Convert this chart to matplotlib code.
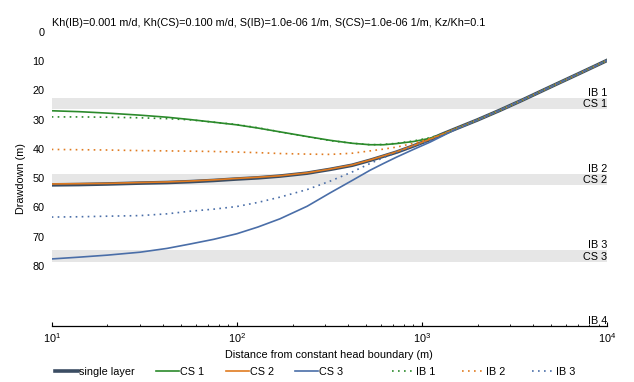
"""Drawdown vs distance from a constant head boundary, layered aquifer."""

import matplotlib
matplotlib.use("Agg")
import matplotlib.pyplot as plt

plt.rcParams['font.family'] = ['Liberation Sans', 'DejaVu Sans']
plt.rcParams['mathtext.fontset'] = 'custom'
plt.rcParams['mathtext.rm'] = 'Liberation Sans'
plt.rcParams['mathtext.it'] = 'Liberation Sans:italic'
plt.rcParams['mathtext.bf'] = 'Liberation Sans:bold'

FS = 7.8

title = ("Kh(IB)=0.001 m/d, Kh(CS)=0.100 m/d, S(IB)=1.0e-06 1/m, "
         "S(CS)=1.0e-06 1/m, Kz/Kh=0.1")

# distance from boundary (m)
distance = [10, 14, 20, 30, 42, 56, 75, 100, 130, 171, 240, 320, 420, 525,
            620, 731, 900, 1107, 1300, 1500, 2000, 2642, 3500, 5000, 7000,
            10000]

# drawdown (m)
single_layer = [52.3, 52.2, 52.0, 51.7, 51.5, 51.2, 50.8, 50.3, 49.9, 49.3,
                48.3, 47.0, 45.6, 43.9, 42.5, 41.1, 39.0, 36.8, 34.9, 33.3,
                30.1, 26.8, 23.3, 18.7, 14.4, 9.8]
cs1 = [27.0, 27.3, 27.8, 28.5, 29.2, 30.0, 30.9, 31.8, 32.9, 34.2,
       35.8, 37.1, 38.1, 38.6, 38.6, 38.2, 37.5, 36.4, 34.9, 33.3,
       30.1, 26.8, 23.3, 18.7, 14.4, 9.8]
cs2 = [52.0, 51.9, 51.8, 51.5, 51.3, 51.0, 50.6, 50.1, 49.7, 49.2,
       48.2, 46.9, 45.5, 43.8, 42.4, 41.0, 38.9, 36.7, 34.9, 33.3,
       30.1, 26.8, 23.3, 18.7, 14.4, 9.8]
cs3 = [77.6, 77.0, 76.3, 75.3, 74.0, 72.5, 70.9, 69.0, 66.7, 63.9,
       59.6, 55.0, 50.8, 47.3, 45.0, 42.8, 40.2, 37.7, 35.5, 33.5,
       30.1, 26.8, 23.3, 18.7, 14.4, 9.8]
ib1 = [29.1, 29.1, 29.2, 29.4, 29.7, 30.1, 30.9, 31.7, 32.8, 34.2,
       35.8, 37.2, 38.1, 38.6, 38.5, 38.1, 37.3, 36.2, 34.8, 33.3,
       30.1, 26.8, 23.3, 18.7, 14.4, 9.8]
ib2 = [40.2, 40.3, 40.4, 40.6, 40.7, 40.8, 40.9, 41.1, 41.3, 41.6,
       41.8, 41.9, 41.5, 40.7, 40.1, 39.4, 38.1, 36.5, 34.9, 33.3,
       30.1, 26.8, 23.3, 18.7, 14.4, 9.8]
ib3 = [63.3, 63.2, 63.0, 62.8, 62.2, 61.3, 60.6, 59.7, 58.3, 56.5,
       53.9, 51.0, 47.9, 45.0, 43.0, 41.2, 39.2, 37.2, 35.3, 33.4,
       30.1, 26.8, 23.3, 18.7, 14.4, 9.8]

# layers: name and depth of the layer bottom (m)
layer_names = ["IB 1", "CS 1", "IB 2", "CS 2", "IB 3", "CS 3", "IB 4"]
layer_bottoms = [22.5, 26.5, 48.5, 52.5, 74.5, 78.5, 100.5]

c_single = '#3b4d63'
c_green = '#2b8a2b'
c_orange = '#e07b20'
c_blue = '#4a6ea8'
c_band = '#e6e6e6'

fig = plt.figure(figsize=(6.34, 3.82), dpi=100)
ax = fig.add_axes([0.0815, 0.1466, 0.876, 0.7704])

# compressible (CS) layers shaded
top = 0.0
for name, bottom in zip(layer_names, layer_bottoms):
    if name.startswith("CS"):
        ax.axhspan(top, bottom, color=c_band, lw=0, zorder=0)
    ax.text(1e4, bottom, name, ha='right', va='bottom', fontsize=FS)
    top = bottom

ax.plot(distance, single_layer, color=c_single, lw=2.6, label='single layer')
ax.plot(distance, cs1, color=c_green, lw=1.2, label='CS 1')
ax.plot(distance, cs2, color=c_orange, lw=1.2, label='CS 2')
ax.plot(distance, cs3, color=c_blue, lw=1.2, label='CS 3')
dots = (0, (1, 2.6))
ax.plot(distance, ib1, color=c_green, lw=1.2, ls=dots, label='IB 1')
ax.plot(distance, ib2, color=c_orange, lw=1.2, ls=dots, label='IB 2')
ax.plot(distance, ib3, color=c_blue, lw=1.2, ls=dots, label='IB 3')

ax.set_xscale('log')
ax.set_xlim(10, 1e4)
ax.set_ylim(layer_bottoms[-1], 0)
ax.set_yticks(range(0, 81, 10))

for side in ('left', 'top', 'right'):
    ax.spines[side].set_visible(False)
ax.spines['bottom'].set_linewidth(0.9)
ax.tick_params(axis='y', length=0, labelsize=FS, pad=5)
ax.tick_params(axis='x', which='major', direction='in', length=3.2,
               width=0.8, labelsize=FS, pad=3.5)
ax.tick_params(axis='x', which='minor', direction='in', length=1.6,
               width=0.6)

ax.set_title(title, loc='left', fontsize=FS, pad=4)
ax.set_xlabel("Distance from constant head boundary (m)", fontsize=FS,
              labelpad=4)
ax.set_ylabel("Drawdown (m)", fontsize=FS)
ax.yaxis.set_label_coords(-0.046, 0.5)

handles, labels = ax.get_legend_handles_labels()
leg_kw = dict(fontsize=FS, frameon=False, handlelength=2.1,
              handletextpad=0.1, borderpad=0,
              borderaxespad=0, loc='center left',
              bbox_transform=fig.transFigure)
leg1 = ax.legend(handles[:4], labels[:4], ncol=4, columnspacing=2.0,
                 bbox_to_anchor=(0.0868, 0.027), **leg_kw)
ax.add_artist(leg1)
ax.legend(handles[4:], labels[4:], ncol=3, columnspacing=2.45,
          bbox_to_anchor=(0.619, 0.027), **leg_kw)

fig.savefig("out.png", dpi=100)
